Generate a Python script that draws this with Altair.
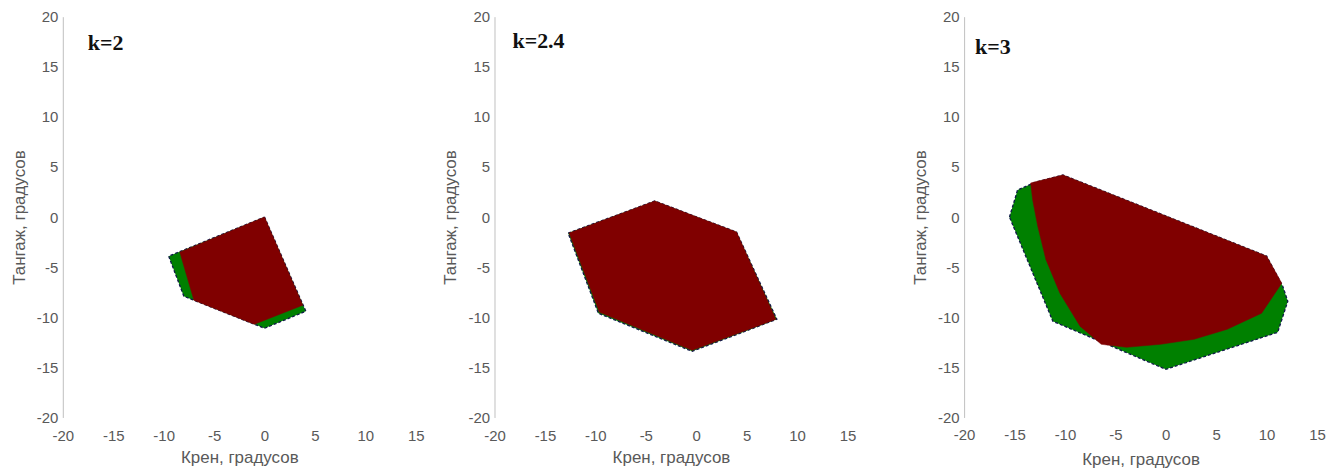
import altair as alt
import pandas as pd

# Stability regions in the roll / pitch plane (degrees) for three gain values.
# Each region is a polygon: green = whole region, dark red = inner region.

K2_OUTER_X = [0.0, 4.1, 0.0, -8.0, -9.5]
K2_OUTER_Y = [0.0, -9.4, -11.1, -7.9, -3.9]
K2_INNER_X = [-8.4, 0.0, 3.8, -1.0, -7.0]
K2_INNER_Y = [-3.5, 0.0, -8.8, -10.7, -8.3]

K24_OUTER_X = [-12.7, -4.1, 4.0, 8.0, -0.4, -9.7]
K24_OUTER_Y = [-1.6, 1.6, -1.5, -10.2, -13.4, -9.6]
K24_INNER_X = [-12.6, -4.1, 4.0, 7.9, -0.4, -9.6]
K24_INNER_Y = [-1.6, 1.6, -1.5, -10.2, -13.3, -9.5]

K3_OUTER_X = [-15.5, -14.7, -12.9, -10.2, 10.0, 11.6, 12.1, 11.1, 0.0, -11.2]
K3_OUTER_Y = [0.0, 2.7, 3.5, 4.2, -3.9, -6.9, -8.4, -11.5, -15.2, -10.4]
K3_INNER_X = [-13.4, -10.2, 10.0, 11.5, 9.5, 6.1, 2.8, -0.5, -3.9, -6.4,
              -8.5, -10.5, -11.9, -12.7, -13.2]
K3_INNER_Y = [3.4, 4.2, -3.9, -6.6, -9.6, -11.2, -12.2, -12.7, -13.0, -12.7,
              -10.9, -7.6, -4.2, -0.9, 1.7]

PANEL_LABELS = ["k=2", "k=2.4", "k=3"]

X_TICKS = [-20, -15, -10, -5, 0, 5, 10, 15]
Y_TICKS = [-20, -15, -10, -5, 0, 5, 10, 15, 20]

GREEN = "#008000"
RED = "#800000"
EDGE = "#101a4a"

W, H = 354, 402

# plain hyphen for negative tick labels
TICK_EXPR = "'' + datum.value"


def polygon(xs, ys, region):
    # repeat the first vertex so the outline closes
    xs = list(xs) + [xs[0]]
    ys = list(ys) + [ys[0]]
    return pd.DataFrame({"x": xs, "y": ys, "i": range(len(xs)), "region": region})


def panel(outer, inner, label, label_dx, label_dy, x_label_pad, x_title_pad):
    x_enc = alt.X(
        "x:Q",
        scale=alt.Scale(domain=[-20, 15], nice=False, zero=False),
        axis=alt.Axis(
            title="Крен, градусов", values=X_TICKS, domain=False, ticks=False,
            grid=False, labelPadding=x_label_pad, titlePadding=x_title_pad,
            labelFlush=False, labelExpr=TICK_EXPR,
        ),
    )
    y_enc = alt.Y(
        "y:Q",
        scale=alt.Scale(domain=[-20, 20], nice=False, zero=False),
        axis=alt.Axis(
            title="Тангаж, градусов", values=Y_TICKS, domain=True, ticks=False,
            grid=False, labelPadding=5, titlePadding=8,
            labelFlush=False, labelExpr=TICK_EXPR,
        ),
    )
    base_outer = alt.Chart(outer).mark_line(
        fill=GREEN, stroke=EDGE, strokeWidth=1.3, strokeDash=[3, 2]
    ).encode(x=x_enc, y=y_enc, order="i:Q")
    base_inner = alt.Chart(inner).mark_line(
        fill=RED, stroke=RED, strokeWidth=0.5
    ).encode(x="x:Q", y="y:Q", order="i:Q")
    text = alt.Chart(pd.DataFrame({"t": [label]})).mark_text(
        font="Liberation Serif", fontWeight="bold", fontSize=22,
        align="left", baseline="alphabetic", color="#111111",
    ).encode(x=alt.value(label_dx), y=alt.value(label_dy), text="t:N")
    return alt.layer(base_outer, base_inner, text).properties(width=W, height=H)


p1 = panel(polygon(K2_OUTER_X, K2_OUTER_Y, "outer"),
           polygon(K2_INNER_X, K2_INNER_Y, "inner"),
           PANEL_LABELS[0], 25, 33, 11, 6)
p2 = panel(polygon(K24_OUTER_X, K24_OUTER_Y, "outer"),
           polygon(K24_INNER_X, K24_INNER_Y, "inner"),
           PANEL_LABELS[1], 18, 31, 11, 6)
p3 = panel(polygon(K3_OUTER_X, K3_OUTER_Y, "outer"),
           polygon(K3_INNER_X, K3_INNER_Y, "inner"),
           PANEL_LABELS[2], 11, 37, 10, 9)

left_pair = alt.hconcat(p1, p2, spacing=17)
chart = alt.hconcat(left_pair, p3, spacing=55).properties(
    padding={"left": 10, "top": 9, "right": 5, "bottom": 5},
    background="white",
).configure_view(stroke=None).configure_axis(
    labelFont="Liberation Sans", labelFontSize=15, labelColor="#595959",
    titleFont="Liberation Sans", titleFontSize=17, titleColor="#595959",
    titleFontWeight="normal", domainColor="#c0c0c0", domainWidth=1,
)

chart.save("out.html", embed_options={"renderer": "svg", "actions": False})
